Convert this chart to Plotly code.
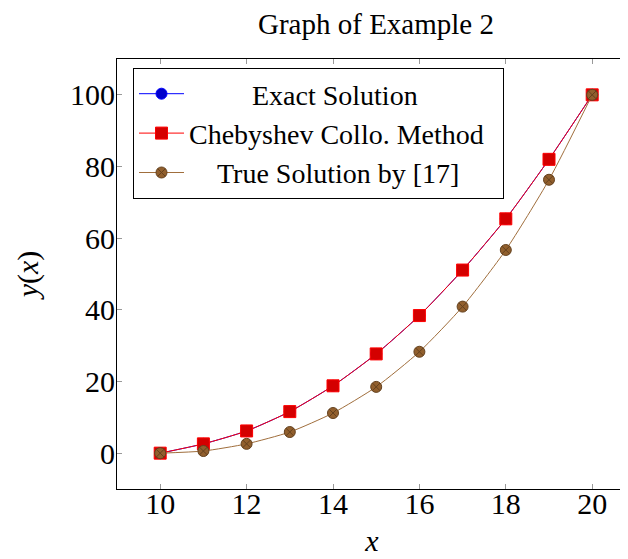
import plotly.graph_objects as go

x_vals = [10, 11, 12, 13, 14, 15, 16, 17, 18, 19, 20]
exact_solution = [0, 2.6, 6.2, 11.6, 18.8, 27.7, 38.4, 51.1, 65.4, 82.0, 100]
chebyshev_method = [0, 2.6, 6.2, 11.6, 18.8, 27.7, 38.4, 51.1, 65.4, 82.0, 100]
true_solution_17 = [0, 0.6, 2.6, 5.9, 11.2, 18.5, 28.3, 40.9, 56.7, 76.3, 100]

x_ticks = [10, 12, 14, 16, 18, 20]
y_ticks = [0, 20, 40, 60, 80, 100]

NB = "\u00a0"
FONT = "'Liberation Serif', 'DejaVu Serif', serif"
FS = 30
LFS = 28

# page has an 8px body margin; figure is sized to fit the 628x559 window
W, H = 620, 551
L, T, B, R = 109, 51, 70, 1
PW = W - L - R
PH = H - T - B

fig = go.Figure()
fig.add_trace(go.Scatter(
    x=x_vals, y=exact_solution, mode="lines+markers",
    name=NB * 9 + "Exact Solution",
    line=dict(color="rgb(0,0,255)", width=1, shape="spline", smoothing=0.6),
    marker=dict(symbol="circle", size=11, color="rgb(0,0,204)",
                line=dict(color="rgb(0,0,255)", width=1)),
))
fig.add_trace(go.Scatter(
    x=x_vals, y=chebyshev_method, mode="lines+markers",
    name="Chebyshev Collo. Method" + NB * 2,
    line=dict(color="rgb(255,0,0)", width=1, shape="spline", smoothing=0.6),
    marker=dict(symbol="square", size=12, color="rgb(212,0,0)",
                line=dict(color="rgb(255,0,0)", width=1)),
))
fig.add_trace(go.Scatter(
    x=x_vals, y=true_solution_17, mode="lines+markers",
    name=NB * 4 + "True Solution by [17]",
    line=dict(color="rgb(160,110,60)", width=1, shape="spline", smoothing=0.6),
    marker=dict(symbol="circle-x", size=11, color="rgb(145,95,45)",
                line=dict(color="rgb(100,65,30)", width=1)),
))

fig.update_layout(
    width=W, height=H,
    margin=dict(l=L, r=R, t=T, b=B, autoexpand=False),
    paper_bgcolor="white", plot_bgcolor="white",
    font=dict(family=FONT, size=FS, color="black"),
    title=dict(text="Graph of Example 2", x=368 / W, xanchor="center",
               y=1 - 16 / H, yanchor="middle", yref="container",
               font=dict(family=FONT, size=29, color="black")),
    showlegend=True,
    legend=dict(x=16 / PW, y=(PH - 9) / PH, xanchor="left", yanchor="top",
                bgcolor="white", bordercolor="black", borderwidth=1,
                font=dict(family=FONT, size=LFS, color="black"),
                itemwidth=45, tracegroupgap=0),
    xaxis=dict(range=[9, 9 + PW / 43.2], tickvals=x_ticks,
               ticktext=[str(v) for v in x_ticks], automargin=False,
               showgrid=False, zeroline=False,
               showline=True, linecolor="black", linewidth=1, mirror="ticks",
               ticks="inside", ticklen=5, tickcolor="#999", tickwidth=1,
               ticklabelstandoff=-12,
               title=dict(text="<i>x</i>", standoff=10,
                          font=dict(family=FONT, size=FS))),
    yaxis=dict(range=[-10, 110], tickvals=y_ticks,
               ticktext=[str(v) for v in y_ticks], automargin=False,
               showgrid=False, zeroline=False,
               showline=True, linecolor="black", linewidth=1, mirror="ticks",
               ticks="inside", ticklen=5, tickcolor="#999", tickwidth=1,
               ticklabelstandoff=-5,
               title=dict(text="<i>y</i>(<i>x</i>)", standoff=22,
                          font=dict(family=FONT, size=FS))),
)

fig.write_html("out.html")
